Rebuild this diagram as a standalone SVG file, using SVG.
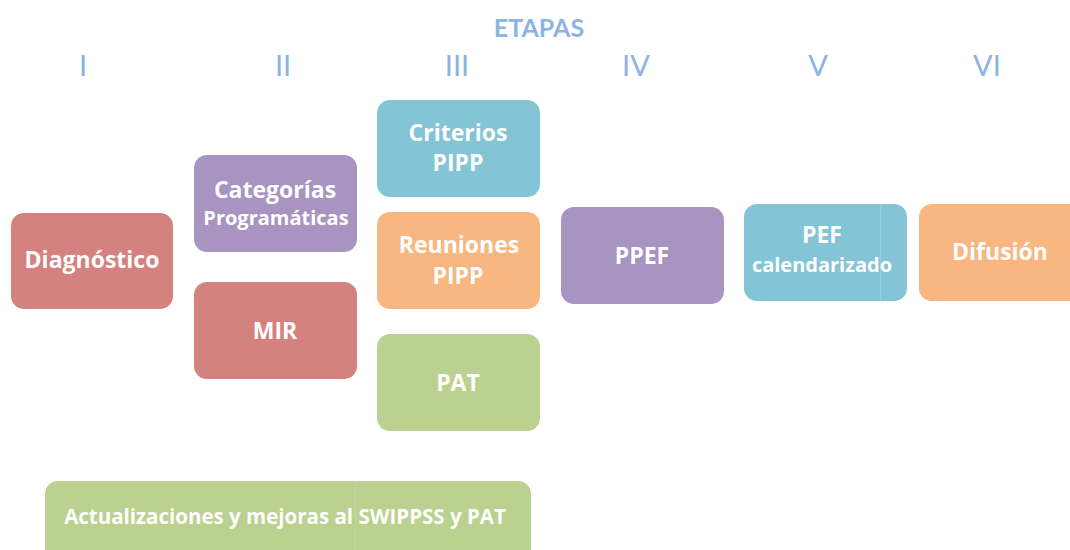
<svg xmlns="http://www.w3.org/2000/svg" width="1070" height="550" viewBox="0 0 1070 550">
  <style>
    .hdr { font-family: Lato, "Open Sans", sans-serif; fill: #8db3e2; text-anchor: middle; }
    .box { rx: 13; ry: 13; }
    .red { fill: #d4827f; }
    .pur { fill: #a794c0; }
    .blu { fill: #83c4d6; }
    .org { fill: #f8b680; }
    .grn { fill: #bad18f; }
    .lbl { font-family: "Open Sans", Lato, sans-serif; font-weight: 700; fill: #ffffff; text-anchor: middle; }
  </style>
  <rect width="1070" height="550" fill="#ffffff"/>

  <!-- stage headings -->
  <g id="headings">
    <text class="hdr" x="539" y="37" font-size="25" font-weight="700">ETAPAS</text>
    <text class="hdr" x="83" y="76" font-size="29">I</text>
    <text class="hdr" x="283" y="76" font-size="29">II</text>
    <text class="hdr" x="457" y="76" font-size="29">III</text>
    <text class="hdr" x="636" y="76" font-size="29">IV</text>
    <text class="hdr" x="818" y="76" font-size="29">V</text>
    <text class="hdr" x="987" y="76" font-size="29">VI</text>
  </g>

  <g id="connectors"></g>

  <g id="diagnostico">
    <rect class="box red" x="11" y="213" width="162" height="96"/>
    <text class="lbl" x="92" y="268" font-size="23">Diagnóstico</text>
  </g>
  <g id="categorias">
    <rect class="box pur" x="194" y="155" width="163" height="97"/>
    <text class="lbl" x="275" y="198" font-size="23">Categorías</text>
    <text class="lbl" x="276" y="225" font-size="20">Programáticas</text>
  </g>
  <g id="mir">
    <rect class="box red" x="194" y="282" width="163" height="97"/>
    <text class="lbl" x="275" y="339" font-size="23">MIR</text>
  </g>
  <g id="criterios">
    <rect class="box blu" x="377" y="100" width="163" height="97"/>
    <text class="lbl" x="458" y="141" font-size="23">Criterios</text>
    <text class="lbl" x="458" y="171" font-size="23">PIPP</text>
  </g>
  <g id="reuniones">
    <rect class="box org" x="377" y="212" width="163" height="97"/>
    <text class="lbl" x="459" y="253" font-size="23">Reuniones</text>
    <text class="lbl" x="458" y="284" font-size="23">PIPP</text>
  </g>
  <g id="pat">
    <rect class="box grn" x="377" y="334" width="163" height="97"/>
    <text class="lbl" x="458" y="391" font-size="23">PAT</text>
  </g>
  <g id="ppef">
    <rect class="box pur" x="561" y="207" width="163" height="97"/>
    <text class="lbl" x="642" y="264" font-size="23">PPEF</text>
  </g>
  <g id="pef">
    <rect class="box blu" x="744" y="204" width="163" height="97"/>
    <line x1="880.5" y1="204" x2="880.5" y2="301" stroke="#97cedd" stroke-width="1"/>
    <text class="lbl" x="822" y="243" font-size="23">PEF</text>
    <text class="lbl" x="822" y="272" font-size="20">calendarizado</text>
  </g>
  <g id="difusion">
    <rect class="box org" x="919" y="204" width="175" height="97"/>
    <text class="lbl" x="1000" y="260" font-size="23">Difusión</text>
  </g>
  <g id="actualizaciones">
    <rect class="box grn" x="45" y="481" width="486" height="90"/>
    <line x1="355.5" y1="481" x2="355.5" y2="550" stroke="#c4d89e" stroke-width="1"/>
    <text class="lbl" x="285" y="524" font-size="20.5">Actualizaciones y mejoras al SWIPPSS y PAT</text>
  </g>
</svg>
